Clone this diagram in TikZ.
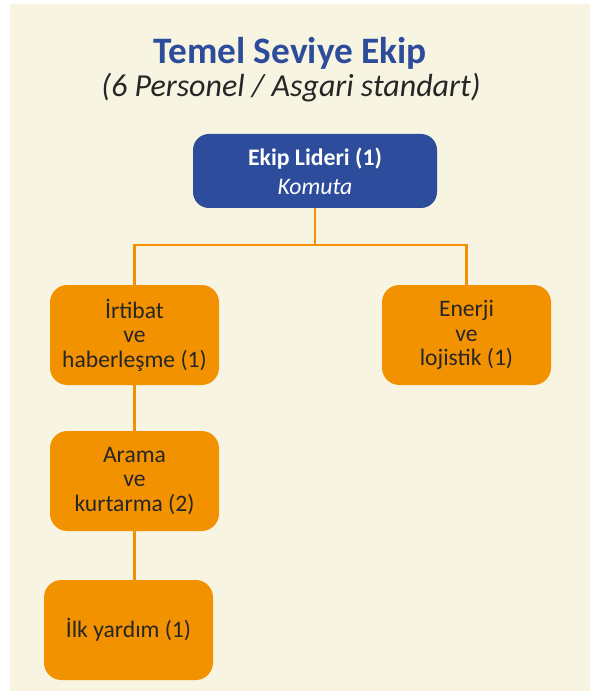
\documentclass[tikz,border=0pt]{standalone}
\usepackage{fontspec}
\setmainfont{Carlito}
\definecolor{cream}{HTML}{F7F4E1}
\definecolor{navy}{HTML}{2D4C9B}
\definecolor{amber}{HTML}{F39200}
\definecolor{ink}{HTML}{262626}
\begin{document}
\begin{tikzpicture}[x=0.75pt,y=-0.75pt,
  lead/.style={fill=navy,rounded corners=12pt,minimum width=244*0.75pt,minimum height=74*0.75pt,
    align=center,text=white,font=\fontsize{17.8}{22}\selectfont,inner sep=0pt},
  unit/.style={fill=amber,rounded corners=13pt,minimum width=169*0.75pt,minimum height=100*0.75pt,
    align=center,text=ink,font=\fontsize{17.7}{18.4}\selectfont,inner sep=0pt},
  link/.style={draw=amber,line width=2.2pt}]
  \useasboundingbox (0,0) rectangle (590,691);
  \fill[white] (0,0) rectangle (590,691);
  \fill[cream] (10,4) rectangle (590,691);
  % heading
  \node[anchor=base,text=navy,font=\fontsize{28}{32}\selectfont\bfseries] (title) at (290,64) {Temel Seviye Ekip};
  \node[anchor=base,text=ink,font=\fontsize{24}{28}\selectfont\itshape] (sub) at (291,97) {(6 Personel / Asgari standart)};
  % boxes
  \node[lead] (lead) at (315,171) {\textbf{Ekip Lideri (1)}\\\textit{Komuta}};
  \node[unit] (comm) at (134.5,335) {İrtibat\\ve\\haberleşme (1)};
  \node[unit] (log) at (466.5,335) {Enerji\\ve\\lojistik (1)};
  \node[unit] (sar) at (134.5,481) {Arama\\ve\\kurtarma (2)};
  \node[unit] (aid) at (128.5,630) {İlk yardım (1)};
  % connectors
  \coordinate (bus) at (315,245);
  \draw[link] (lead.south) -- (bus);
  \draw[link] (comm.north) |- (bus) -| (log.north);
  \draw[link] (comm.south) -- (sar.north);
  \draw[link] (sar.south) -- (sar.south |- aid.north);
\end{tikzpicture}
\end{document}
